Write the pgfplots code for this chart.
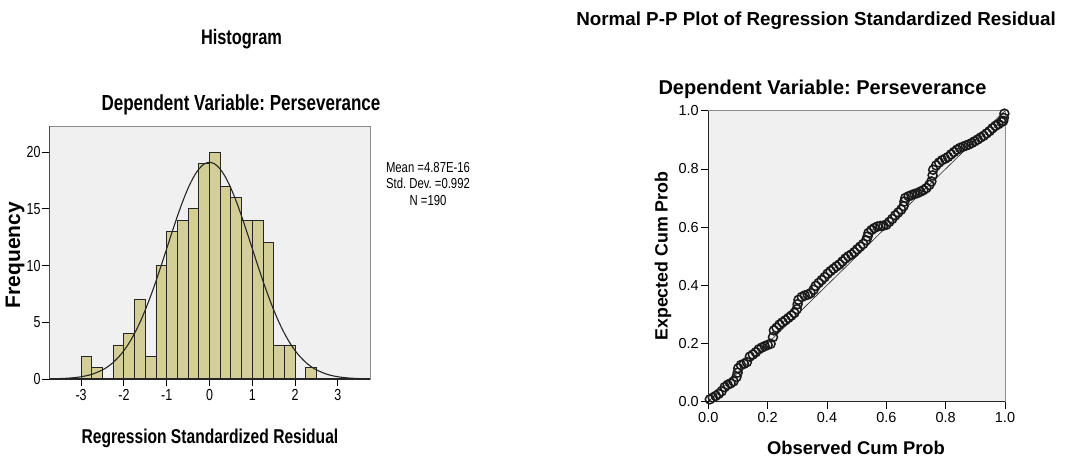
\documentclass[border=0pt]{standalone}
\usepackage{pgfplots}
\pgfplotsset{compat=1.18}
\usepackage{fontspec}
\setmainfont{Liberation Sans}
\newfontfamily\narrow[FakeStretch=0.78]{Liberation Sans}
\definecolor{barfill}{RGB}{211,206,150}
\definecolor{panel}{RGB}{240,240,240}
\frenchspacing
\newcommand\hl{\narrow\fontsize{16}{18}\selectfont}
\newcommand\pl{\fontsize{14.5}{16}\selectfont}

\begin{document}
\begin{tikzpicture}[x=1pt,y=1pt]
\useasboundingbox (0,0) rectangle (1079,456);

% ---- left panel texts
\node[anchor=base] at (241.5,411) {\narrow\bfseries\fontsize{21}{24}\selectfont Histogram};
\node[anchor=base] at (241,345) {\narrow\bfseries\fontsize{21.8}{24}\selectfont Dependent Variable: Perseverance};
\node[anchor=base] at (210,12.7) {\narrow\bfseries\fontsize{20}{24}\selectfont Regression Standardized Residual};
\node[rotate=90] at (15,201) {\bfseries\fontsize{21}{24}\selectfont Frequency};
\node[anchor=base] at (428,283.7) {\narrow\fontsize{14.5}{16}\selectfont Mean =4.87E-16};
\node[anchor=base] at (428,267.7) {\narrow\fontsize{14.5}{16}\selectfont Std. Dev. =0.992};
\node[anchor=base] at (428,251) {\narrow\fontsize{14.5}{16}\selectfont N =190};

% ---- right panel texts
\node[anchor=base] at (816,430) {\bfseries\fontsize{18.8}{22}\selectfont Normal P-P Plot of Regression Standardized Residual};
\node[anchor=base] at (822.5,361.7) {\bfseries\fontsize{20}{24}\selectfont Dependent Variable: Perseverance};
\node[anchor=base] at (856,2) {\bfseries\fontsize{18.4}{22}\selectfont Observed Cum Prob};
\node[rotate=90] at (663,200) {\bfseries\fontsize{17.8}{22}\selectfont Expected Cum Prob};

% ---- histogram
\begin{axis}[
    at={(49pt,77pt)}, anchor=south west,
    scale only axis, width=321pt, height=253pt,
    xmin=-3.75, xmax=3.75, ymin=0, ymax=22.3,
    axis background/.style={fill=panel},
    axis line style={draw=black!45, line width=0.8pt},
    xtick={-3,-2,-1,0,1,2,3}, xticklabels={\hl -3,\hl -2,\hl -1,\hl 0,\hl 1,\hl 2,\hl 3},
    ytick={0,5,10,15,20}, yticklabels={\hl 0,\hl 5,\hl 10,\hl 15,\hl 20},
    tick align=outside, xtick pos=bottom, ytick pos=left,
    major tick length=7pt,
    tick style={black, line width=0.8pt},
    yticklabel style={xshift=2pt},
    clip mode=individual,
]
\addplot[ybar interval, fill=barfill, draw=black!85, line width=0.9pt] coordinates {
    (-3,2) (-2.75,1) (-2.5,0) (-2.25,3) (-2,4) (-1.75,7) (-1.5,2) (-1.25,10)
    (-1,13) (-0.75,14) (-0.5,15) (-0.25,19) (0,20) (0.25,17) (0.5,16)
    (0.75,14) (1,14) (1.25,12) (1.5,3) (1.75,3) (2,0) (2.25,1) (2.5,1)
};
% fitted normal curve (mean 0, sd 0.992, N=190, bin 0.25)
\addplot[black!85, line width=1.1pt, smooth] coordinates {
    (-3.75,0.015) (-3.5,0.038) (-3.25,0.089) (-3,0.197) (-2.75,0.41)
    (-2.5,0.80) (-2.375,1.09) (-2.25,1.46) (-2.125,1.93) (-2,2.50)
    (-1.875,3.20) (-1.75,4.03) (-1.625,4.99) (-1.5,6.09) (-1.375,7.31)
    (-1.25,8.63) (-1.125,10.04) (-1,11.49) (-0.875,12.94) (-0.75,14.35)
    (-0.625,15.66) (-0.5,16.82) (-0.375,17.78) (-0.25,18.50) (-0.125,18.95)
    (0,19.10) (0.125,18.95) (0.25,18.50) (0.375,17.78) (0.5,16.82)
    (0.625,15.66) (0.75,14.35) (0.875,12.94) (1,11.49) (1.125,10.04)
    (1.25,8.63) (1.375,7.31) (1.5,6.09) (1.625,4.99) (1.75,4.03)
    (1.875,3.20) (2,2.50) (2.125,1.93) (2.25,1.46) (2.375,1.09)
    (2.5,0.80) (2.75,0.41) (3,0.197) (3.25,0.089) (3.5,0.038) (3.75,0.015)
};
\draw[black!85, line width=1.3pt] (axis cs:-3.75,0) -- (axis cs:3.75,0);
\draw[black!70, line width=0.8pt] (rel axis cs:0,0) -- (rel axis cs:0,1);
\end{axis}

% ---- P-P plot
\begin{axis}[
    at={(708.3pt,54.3pt)}, anchor=south west,
    scale only axis, width=296.7pt, height=291pt,
    xmin=0, xmax=1, ymin=0, ymax=1,
    axis background/.style={fill=panel},
    axis line style={draw=black!45, line width=0.8pt},
    xtick={0,0.2,0.4,0.6,0.8,1}, xticklabels={\pl 0.0,\pl 0.2,\pl 0.4,\pl 0.6,\pl 0.8,\pl 1.0},
    ytick={0,0.2,0.4,0.6,0.8,1}, yticklabels={\pl 0.0,\pl 0.2,\pl 0.4,\pl 0.6,\pl 0.8,\pl 1.0},
    tick align=outside, xtick pos=bottom, ytick pos=left,
    major tick length=7pt,
    tick style={black, line width=0.8pt},
    yticklabel style={xshift=1pt},
    clip mode=individual,
]
\addplot[black!85, line width=0.6pt] coordinates {(0,0) (1,1)};
\addplot[only marks, mark=o, mark size=4.5pt, mark options={line width=1.5pt, draw=black!90}] coordinates {
(0.005,0.008) (0.015,0.014) (0.025,0.020) (0.035,0.027) (0.045,0.036) (0.055,0.050)
(0.065,0.058) (0.075,0.063) (0.085,0.070) (0.095,0.085) (0.099,0.100) (0.101,0.115)
(0.110,0.126) (0.120,0.130) (0.130,0.136) (0.140,0.155) (0.150,0.162) (0.160,0.170)
(0.170,0.180) (0.180,0.186) (0.190,0.191) (0.200,0.195) (0.210,0.199) (0.218,0.222)
(0.221,0.245) (0.230,0.254) (0.240,0.265) (0.250,0.273) (0.260,0.280) (0.270,0.288)
(0.280,0.296) (0.290,0.305) (0.298,0.318) (0.301,0.335) (0.304,0.350) (0.315,0.360)
(0.325,0.365) (0.335,0.368) (0.345,0.373) (0.355,0.385) (0.362,0.398) (0.372,0.408)
(0.382,0.418) (0.392,0.428) (0.402,0.440) (0.412,0.449) (0.422,0.457) (0.432,0.465)
(0.442,0.472) (0.452,0.482) (0.462,0.492) (0.472,0.500) (0.482,0.506) (0.492,0.514)
(0.502,0.524) (0.512,0.533) (0.522,0.542) (0.532,0.555) (0.537,0.568) (0.540,0.580)
(0.550,0.590) (0.560,0.597) (0.570,0.602) (0.580,0.604) (0.590,0.605) (0.600,0.608)
(0.610,0.618) (0.620,0.628) (0.630,0.640) (0.640,0.650) (0.650,0.660) (0.658,0.672)
(0.661,0.688) (0.664,0.700) (0.675,0.706) (0.685,0.710) (0.695,0.714) (0.705,0.717)
(0.715,0.722) (0.725,0.727) (0.735,0.734) (0.745,0.745) (0.752,0.757) (0.756,0.778)
(0.758,0.797) (0.768,0.812) (0.778,0.822) (0.788,0.830) (0.798,0.835) (0.808,0.841)
(0.818,0.850) (0.828,0.858) (0.838,0.866) (0.848,0.872) (0.858,0.876) (0.868,0.880)
(0.878,0.884) (0.888,0.889) (0.898,0.895) (0.908,0.901) (0.918,0.908) (0.928,0.914)
(0.938,0.922) (0.948,0.930) (0.958,0.940) (0.968,0.948) (0.978,0.954) (0.988,0.961)
(0.994,0.965) (0.996,0.975) (0.998,0.990)
};
\draw[black!85, line width=1pt] (rel axis cs:0,0) -- (rel axis cs:1,0);
\draw[black!85, line width=1pt] (rel axis cs:0,0) -- (rel axis cs:0,1);
\end{axis}
\end{tikzpicture}
\end{document}
